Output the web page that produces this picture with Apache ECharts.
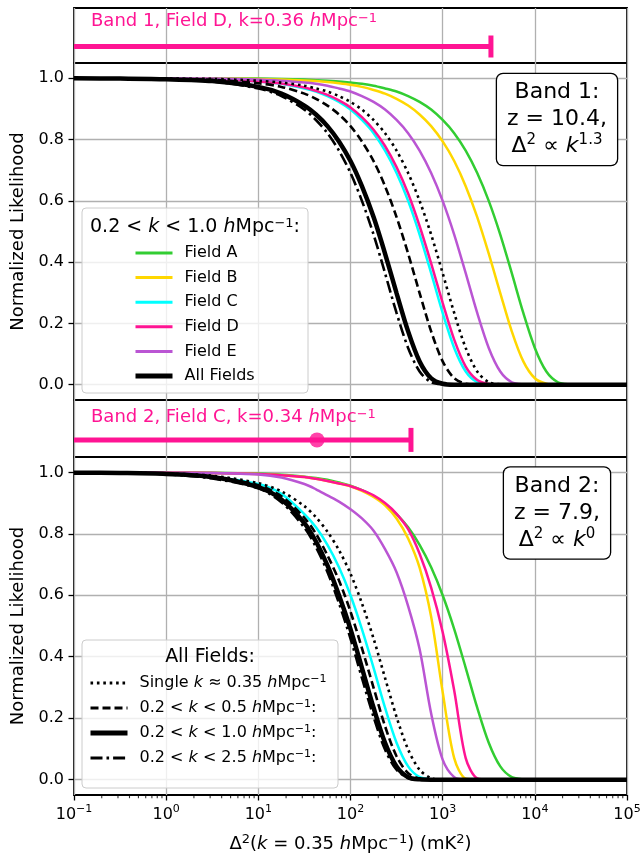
<!DOCTYPE html>
<html>
<head>
<meta charset="utf-8">
<title>Normalized likelihood</title>
<script src="https://cdn.jsdelivr.net/npm/echarts@6/dist/echarts.min.js"></script>
<style>
  html, body { margin: 0; padding: 0; background: #fff; }
  #chart { width: 640px; height: 854px; }
</style>
</head>
<body>
<div id="chart"></div>
<script>
const xGrid = [0.1, 0.316, 1, 3.16, 10, 17.8, 31.6, 42.2, 56.2, 75, 100, 133, 178, 237, 316, 422, 562, 750,
  1000, 1334, 1778, 2371, 3162, 4217, 5623, 7499, 10000, 13335, 17783, 23714, 31623, 100000];

// Band 1 (z = 10.4), 0.2 < k < 1.0 per field
const b1FieldA = [1, 1, 1, 1, 0.999, 0.998, 0.996, 0.994, 0.992, 0.990, 0.986, 0.982, 0.976, 0.967, 0.957, 0.942, 0.923, 0.898, 0.864, 0.821, 0.764, 0.691, 0.600, 0.490, 0.364, 0.234, 0.120, 0.043, 0.008, 0.001, 0, 0];
const b1FieldB = [1, 1, 1, 0.999, 0.998, 0.996, 0.993, 0.991, 0.988, 0.984, 0.979, 0.972, 0.962, 0.950, 0.933, 0.911, 0.882, 0.844, 0.794, 0.730, 0.648, 0.547, 0.428, 0.299, 0.174, 0.076, 0.021, 0.003, 0, 0, 0, 0];
const b1FieldC = [1, 1, 0.999, 0.997, 0.990, 0.982, 0.967, 0.957, 0.942, 0.923, 0.898, 0.864, 0.821, 0.764, 0.691, 0.600, 0.490, 0.364, 0.234, 0.120, 0.043, 0.008, 0.001, 0, 0, 0, 0, 0, 0, 0, 0, 0];
const b1FieldD = [1, 1, 0.999, 0.997, 0.990, 0.983, 0.970, 0.959, 0.946, 0.928, 0.905, 0.873, 0.832, 0.779, 0.710, 0.624, 0.518, 0.396, 0.267, 0.147, 0.059, 0.015, 0.002, 0, 0, 0, 0, 0, 0, 0, 0, 0];
const b1FieldE = [1, 1, 1, 0.999, 0.996, 0.992, 0.986, 0.982, 0.976, 0.967, 0.957, 0.942, 0.923, 0.898, 0.864, 0.821, 0.764, 0.691, 0.600, 0.490, 0.364, 0.234, 0.120, 0.043, 0.008, 0.001, 0, 0, 0, 0, 0, 0];
// Band 1, all fields combined
const b1Single = [1, 1, 0.999, 0.998, 0.992, 0.986, 0.976, 0.967, 0.957, 0.942, 0.923, 0.898, 0.864, 0.821, 0.764, 0.691, 0.600, 0.490, 0.364, 0.234, 0.120, 0.043, 0.008, 0.001, 0, 0, 0, 0, 0, 0, 0, 0];
const b1K05 = [1, 1, 0.998, 0.995, 0.984, 0.972, 0.950, 0.933, 0.911, 0.882, 0.844, 0.794, 0.730, 0.648, 0.547, 0.428, 0.299, 0.174, 0.076, 0.021, 0.003, 0, 0, 0, 0, 0, 0, 0, 0, 0, 0, 0];
const b1K10 = [1, 0.999, 0.997, 0.991, 0.972, 0.950, 0.911, 0.882, 0.844, 0.794, 0.730, 0.648, 0.547, 0.428, 0.299, 0.174, 0.076, 0.021, 0.003, 0, 0, 0, 0, 0, 0, 0, 0, 0, 0, 0, 0, 0];
const b1K25 = [1, 0.999, 0.997, 0.990, 0.967, 0.942, 0.898, 0.864, 0.821, 0.764, 0.691, 0.600, 0.490, 0.364, 0.234, 0.120, 0.043, 0.008, 0.001, 0, 0, 0, 0, 0, 0, 0, 0, 0, 0, 0, 0, 0];

// Band 2 (z = 7.9)
const b2FieldA = [1, 1, 1, 0.999, 0.996, 0.992, 0.986, 0.982, 0.976, 0.967, 0.957, 0.942, 0.923, 0.898, 0.864, 0.821, 0.764, 0.691, 0.600, 0.490, 0.364, 0.234, 0.120, 0.043, 0.008, 0.001, 0, 0, 0, 0, 0, 0];
const b2FieldB = [1, 1, 0.999, 0.998, 0.995, 0.991, 0.985, 0.979, 0.972, 0.964, 0.955, 0.940, 0.920, 0.893, 0.850, 0.785, 0.690, 0.530, 0.285, 0.070, 0.003, 0, 0, 0, 0, 0, 0, 0, 0, 0, 0, 0];
const b2FieldC = [1, 0.999, 0.996, 0.986, 0.962, 0.930, 0.864, 0.821, 0.764, 0.691, 0.600, 0.490, 0.364, 0.234, 0.120, 0.043, 0.008, 0.001, 0, 0, 0, 0, 0, 0, 0, 0, 0, 0, 0, 0, 0, 0];
const b2FieldD = [1, 1, 0.999, 0.998, 0.995, 0.991, 0.985, 0.979, 0.972, 0.964, 0.955, 0.942, 0.925, 0.900, 0.865, 0.815, 0.735, 0.625, 0.480, 0.290, 0.070, 0.004, 0, 0, 0, 0, 0, 0, 0, 0, 0, 0];
const b2FieldE = [1, 1, 0.999, 0.998, 0.993, 0.983, 0.962, 0.945, 0.925, 0.905, 0.880, 0.850, 0.810, 0.750, 0.675, 0.565, 0.425, 0.215, 0.065, 0.008, 0, 0, 0, 0, 0, 0, 0, 0, 0, 0, 0, 0];
const b2Single = [1, 0.999, 0.996, 0.989, 0.965, 0.938, 0.890, 0.854, 0.807, 0.747, 0.670, 0.574, 0.459, 0.331, 0.204, 0.098, 0.032, 0.005, 0, 0, 0, 0, 0, 0, 0, 0, 0, 0, 0, 0, 0, 0];
const b2K05 = [0.999, 0.998, 0.995, 0.984, 0.958, 0.922, 0.852, 0.800, 0.730, 0.648, 0.547, 0.428, 0.299, 0.174, 0.076, 0.021, 0.003, 0, 0, 0, 0, 0, 0, 0, 0, 0, 0, 0, 0, 0, 0, 0];
const b2K10 = [0.999, 0.998, 0.995, 0.985, 0.952, 0.912, 0.835, 0.775, 0.697, 0.600, 0.490, 0.364, 0.234, 0.120, 0.043, 0.008, 0.001, 0, 0, 0, 0, 0, 0, 0, 0, 0, 0, 0, 0, 0, 0, 0];
const b2K25 = [0.999, 0.998, 0.994, 0.980, 0.948, 0.903, 0.820, 0.757, 0.676, 0.574, 0.459, 0.331, 0.204, 0.098, 0.032, 0.005, 0, 0, 0, 0, 0, 0, 0, 0, 0, 0, 0, 0, 0, 0, 0, 0];

// single-field limits shown in the thin strips
const band1Limit = 3340;
const band2Limit = 453;
const band2Best = 43.3;
const stripY = 0.3;

const yTicks = [0, 0.2, 0.4, 0.6, 0.8, 1.0];
const minorMultipliers = [2, 3, 4, 5, 6, 7, 8, 9];
const decades = [0.1, 1, 10, 100, 1000, 10000];

const FONT = 'DejaVu Sans';
const PINK = '#ff1493';
const GREY = '#b0b0b0';

// minor log ticks 2..9 in every decade
const minorTicks = [];
decades.forEach(d => minorMultipliers.forEach(m => minorTicks.push([+(d * m).toPrecision(3), 0])));

const legendNames = {
  single: 'Single {i|k} \u2248 0.35 {i|h}Mpc{sup|\u22121}',
  k05: '0.2 < {i|k} < 0.5 {i|h}Mpc{sup|\u22121}:',
  k10: '0.2 < {i|k} < 1.0 {i|h}Mpc{sup|\u22121}:',
  k25: '0.2 < {i|k} < 2.5 {i|h}Mpc{sup|\u22121}:'
};

const styles = {
  A: { color: '#32cd32', width: 2.5, type: 'solid' },
  B: { color: '#ffd700', width: 2.5, type: 'solid' },
  C: { color: '#00ffff', width: 2.5, type: 'solid' },
  D: { color: '#ff1493', width: 2.5, type: 'solid' },
  E: { color: '#ba55d3', width: 2.5, type: 'solid' },
  all: { color: '#000', width: 4.5, type: 'solid' },
  single: { color: '#000', width: 2.6, type: [2.6, 3.8] },
  k05: { color: '#000', width: 2.6, type: [8, 4] },
  k25: { color: '#000', width: 2.6, type: [12, 4, 2.6, 4] }
};

function richFor(size, color) {
  return {
    i: { fontStyle: 'italic', fontSize: size, fontFamily: FONT, color: color },
    sup: { fontSize: Math.round(size * 0.7), lineHeight: Math.round(size * 0.7) + 1, verticalAlign: 'top', fontFamily: FONT, color: color }
  };
}

function zrRich(size, color, align) {
  return {
    i: { font: 'italic ' + size + 'px "' + FONT + '"', fill: color, align: align },
    sup: { font: Math.round(size * 0.7) + 'px "' + FONT + '"', fill: color, verticalAlign: 'top', align: align }
  };
}

function curve(name, ys, gi, st, z) {
  return {
    type: 'line', name: name, xAxisIndex: gi, yAxisIndex: gi,
    data: xGrid.map((x, i) => [x, ys[i]]),
    symbol: 'none', smooth: 0.3, color: st.color,
    lineStyle: { color: st.color, width: st.width, type: st.type, cap: 'butt' },
    z: z, silent: true
  };
}

const gridBase = { left: 74, right: 13, show: true, borderColor: '#000', borderWidth: 1.8, backgroundColor: 'transparent', outerBoundsMode: 'none', containLabel: false };
const grids = [
  Object.assign({}, gridBase, { top: 8, height: 55 }),
  Object.assign({}, gridBase, { top: 63, height: 337 }),
  Object.assign({}, gridBase, { top: 400, height: 57 }),
  Object.assign({}, gridBase, { top: 457, height: 338 }),
  // thin helper grid right on the lower x axis, carries the minor ticks
  { left: 74, right: 13, top: 795, height: 4, show: false, outerBoundsMode: 'none', containLabel: false }
];

function logAxis(gi, withLabels) {
  const ax = {
    type: 'log', logBase: 10, gridIndex: gi, min: 0.1, max: 100000, position: 'bottom',
    axisLine: { show: false, onZero: false },
    axisTick: { show: withLabels, length: 5.5, lineStyle: { color: '#000', width: 1.3 } },
    axisLabel: { show: false },
    splitLine: { show: true, lineStyle: { color: GREY, width: 1.3 } },
    minorTick: { show: false }, minorSplitLine: { show: false }
  };
  if (withLabels) {
    ax.axisLabel = {
      show: true, margin: 9, fontSize: 16, color: '#000', fontFamily: FONT, lineHeight: 22,
      formatter: v => '10{sup|' + String(Math.round(Math.log10(v))).replace('-', '\u2212') + '}',
      rich: { sup: { fontSize: 11, lineHeight: 12, verticalAlign: 'top', fontFamily: FONT, color: '#000' } }
    };
    ax.name = '\u0394{sup|2}({i|k} = 0.35 {i|h}Mpc{sup|\u22121}) (mK{sup|2})';
    ax.nameLocation = 'middle';
    ax.nameGap = 38;
    ax.nameTextStyle = { fontSize: 18, color: '#000', fontFamily: FONT, lineHeight: 22, rich: richFor(18, '#000') };
  }
  return ax;
}

function mainYAxis(gi) {
  return {
    type: 'value', gridIndex: gi, min: -0.05, max: 1.05, position: 'left',
    name: 'Normalized Likelihood', nameLocation: 'middle', nameGap: 46,
    nameTextStyle: { fontSize: 18, color: '#000', fontFamily: FONT },
    axisLine: { show: false, onZero: false },
    axisTick: { show: true, length: 5.5, customValues: yTicks, lineStyle: { color: '#000', width: 1.3 } },
    axisLabel: { show: true, customValues: yTicks, formatter: v => v.toFixed(1), fontSize: 16, color: '#000', fontFamily: FONT, margin: 10 },
    splitLine: { show: true, lineStyle: { color: GREY, width: 1.3 } }
  };
}

const series = [
  // Band 1 strip: Field D upper limit
  {
    type: 'line', xAxisIndex: 0, yAxisIndex: 0, color: PINK,
    data: [{ value: [0.1, stripY], symbol: 'none' }, { value: [band1Limit, stripY], symbol: 'rect', symbolSize: [5, 22] }],
    lineStyle: { color: PINK, width: 5 }, itemStyle: { color: PINK }, z: 3
  },
  curve('Field A', b1FieldA, 1, styles.A, 2),
  curve('Field B', b1FieldB, 1, styles.B, 2),
  curve('Field C', b1FieldC, 1, styles.C, 2),
  curve('Field D', b1FieldD, 1, styles.D, 2),
  curve('Field E', b1FieldE, 1, styles.E, 2),
  curve('All Fields', b1K10, 1, styles.all, 3),
  curve('single', b1Single, 1, styles.single, 3),
  curve('k05', b1K05, 1, styles.k05, 3),
  curve('k25', b1K25, 1, styles.k25, 3),
  // Band 2 strip: Field C
  {
    type: 'line', xAxisIndex: 2, yAxisIndex: 2, color: PINK,
    data: [{ value: [0.1, stripY], symbol: 'none' }, { value: [band2Limit, stripY], symbol: 'rect', symbolSize: [5, 24] }],
    lineStyle: { color: PINK, width: 5 }, itemStyle: { color: PINK }, z: 3
  },
  {
    type: 'scatter', xAxisIndex: 2, yAxisIndex: 2, data: [[band2Best, stripY]],
    symbol: 'circle', symbolSize: 15, itemStyle: { color: PINK }, z: 4
  },
  curve('Field A', b2FieldA, 3, styles.A, 2),
  curve('Field B', b2FieldB, 3, styles.B, 2),
  curve('Field C', b2FieldC, 3, styles.C, 2),
  curve('Field D', b2FieldD, 3, styles.D, 2),
  curve('Field E', b2FieldE, 3, styles.E, 2),
  curve('k10', b2K10, 3, styles.all, 3),
  curve('single', b2Single, 3, styles.single, 3),
  curve('k05', b2K05, 3, styles.k05, 3),
  curve('k25', b2K25, 3, styles.k25, 3),
  // minor ticks of the lower log axis
  {
    type: 'scatter', xAxisIndex: 4, yAxisIndex: 4, data: minorTicks, clip: false, silent: true,
    symbol: 'rect', symbolSize: [1.1, 3.2], symbolOffset: [0, 1.6], itemStyle: { color: '#000' }, z: 5
  }
];

const legendText = { fontFamily: FONT, fontSize: 16, color: '#000', lineHeight: 19, padding: [0, 0, 0, 7], rich: richFor(16, '#000') };

function legendItem(name, st) {
  return { name: name, lineStyle: { width: st.width + 0.5, type: st.type, color: st.color } };
}

const option = {
  animation: false,
  backgroundColor: '#fff',
  textStyle: { fontFamily: FONT },
  grid: grids,
  xAxis: [
    logAxis(0, false), logAxis(1, false), logAxis(2, false), logAxis(3, true),
    { type: 'log', logBase: 10, gridIndex: 4, min: 0.1, max: 100000, show: false }
  ],
  yAxis: [
    { type: 'value', gridIndex: 0, min: 0, max: 1, show: false },
    mainYAxis(1),
    { type: 'value', gridIndex: 2, min: 0, max: 1, show: false },
    mainYAxis(3),
    { type: 'value', gridIndex: 4, min: -1, max: 0, show: false }
  ],
  legend: [
    {
      data: [legendItem('Field A', styles.A), legendItem('Field B', styles.B), legendItem('Field C', styles.C),
        legendItem('Field D', styles.D), legendItem('Field E', styles.E), legendItem('All Fields', styles.all)],
      orient: 'vertical', left: 133, top: 243.5, itemWidth: 37, itemHeight: 19, itemGap: 5.6, padding: 0,
      selectedMode: false, itemStyle: { opacity: 0 }, textStyle: legendText, z: 6
    },
    {
      data: [legendItem('single', styles.single), legendItem('k05', styles.k05), legendItem('k10', styles.all), legendItem('k25', styles.k25)],
      formatter: name => legendNames[name] || name,
      orient: 'vertical', left: 88, top: 673.5, itemWidth: 37, itemHeight: 19, itemGap: 6, padding: 0,
      selectedMode: false, itemStyle: { opacity: 0 }, textStyle: legendText, z: 6
    }
  ],
  graphic: [
    { type: 'rect', z: 5, shape: { x: 82, y: 208, width: 226, height: 185, r: 4 }, style: { fill: 'rgba(255,255,255,0.8)', stroke: '#cccccc', lineWidth: 1 } },
    {
      type: 'text', z: 7, x: 195, y: 227,
      style: { text: '0.2 < {i|k} < 1.0 {i|h}Mpc{sup|\u22121}:', font: '19px "' + FONT + '"', fill: '#000', align: 'center', verticalAlign: 'middle', rich: zrRich(19, '#000', 'center') }
    },
    { type: 'rect', z: 5, shape: { x: 82, y: 640, width: 256, height: 148, r: 4 }, style: { fill: 'rgba(255,255,255,0.8)', stroke: '#cccccc', lineWidth: 1 } },
    {
      type: 'text', z: 7, x: 210, y: 657,
      style: { text: 'All Fields:', font: '19px "' + FONT + '"', fill: '#000', align: 'center', verticalAlign: 'middle' }
    },
    {
      type: 'text', z: 8, x: 557, y: 119.5,
      style: {
        text: 'Band 1:\nz = 10.4,\n\u0394{sup|2} \u221d {i|k}{sup|1.3}',
        font: '22px "' + FONT + '"', fill: '#000', align: 'center', verticalAlign: 'middle', lineHeight: 27,
        backgroundColor: '#fff', borderColor: '#000', borderWidth: 1.3, borderRadius: 6, padding: [5, 10, 5, 10],
        rich: zrRich(22, '#000', 'center')
      }
    },
    {
      type: 'text', z: 8, x: 557, y: 513,
      style: {
        text: 'Band 2:\nz = 7.9,\n\u0394{sup|2} \u221d {i|k}{sup|0}',
        font: '22px "' + FONT + '"', fill: '#000', align: 'center', verticalAlign: 'middle', lineHeight: 27,
        backgroundColor: '#fff', borderColor: '#000', borderWidth: 1.3, borderRadius: 6, padding: [5, 10, 5, 10],
        rich: zrRich(22, '#000', 'center')
      }
    },
    {
      type: 'text', z: 8, x: 91, y: 21,
      style: { text: 'Band 1, Field D, k=0.36 {i|h}Mpc{sup|\u22121}', font: '18px "' + FONT + '"', fill: PINK, align: 'left', verticalAlign: 'middle', rich: zrRich(18, PINK, 'left') }
    },
    {
      type: 'text', z: 8, x: 91, y: 417,
      style: { text: 'Band 2, Field C, k=0.34 {i|h}Mpc{sup|\u22121}', font: '18px "' + FONT + '"', fill: PINK, align: 'left', verticalAlign: 'middle', rich: zrRich(18, PINK, 'left') }
    }
  ],
  series: series
};

const chart = echarts.init(document.getElementById('chart'));
chart.setOption(option);
</script>
</body>
</html>
